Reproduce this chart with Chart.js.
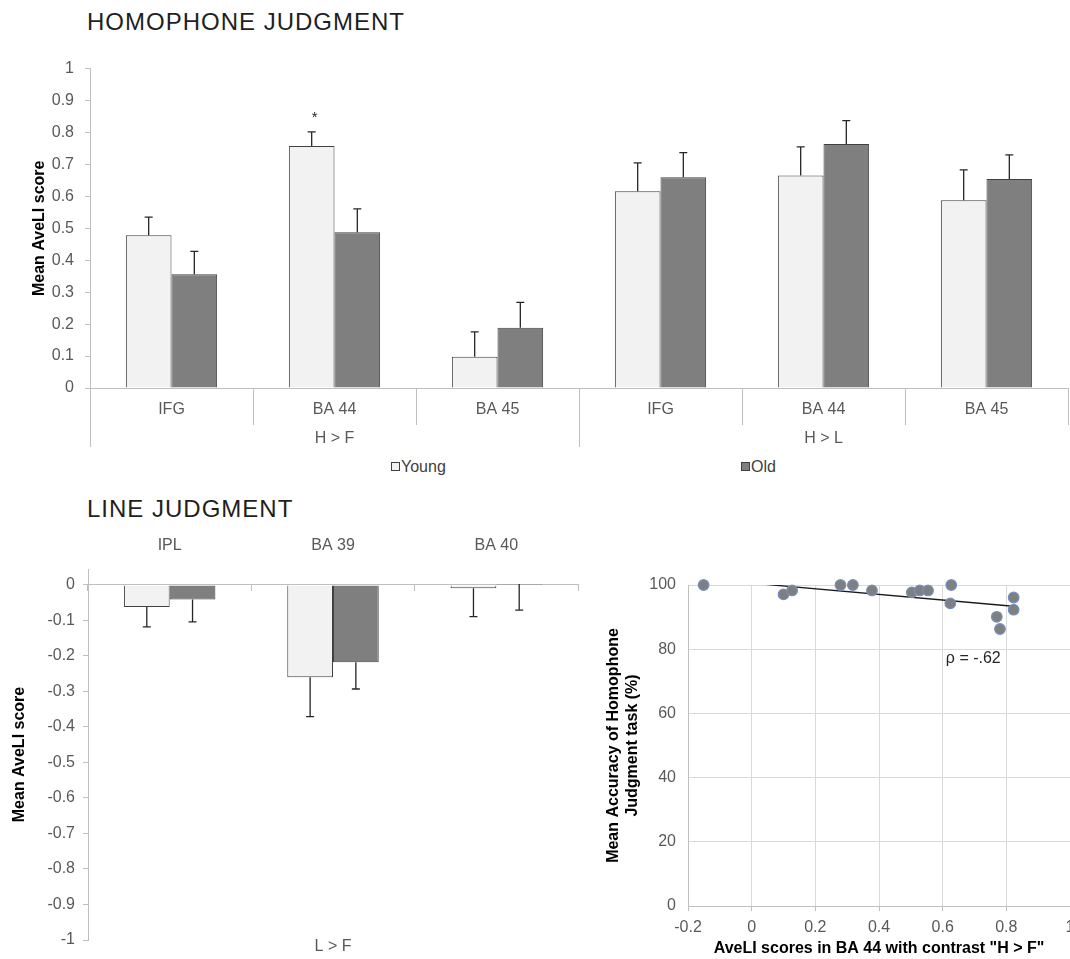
<!DOCTYPE html>
<html>
<head>
<meta charset="utf-8">
<script src="https://cdn.jsdelivr.net/npm/chart.js@4.4.1/dist/chart.umd.min.js"></script>
<style>
	body { margin: 0; width: 1070px; height: 959px; overflow: hidden; background: #fff; position: relative; font-family: "Liberation Sans", Arial, sans-serif; }
	.title { position: absolute; left: 87px; font-size: 24px; letter-spacing: 1px; color: #1f1f1f; }
	.box { position: absolute; }
	.legend { position: absolute; top: 458px; font-size: 16px; color: #404040; }
	.legend span { display: inline-block; width: 7px; height: 7px; border: 1px solid #404040; margin-right: 1px; vertical-align: 1px; }
</style>
</head>
<body>
<div class="title" style="top:8px">HOMOPHONE JUDGMENT</div>
<div class="box" style="left:0;top:48px;width:1070px;height:400px"><canvas id="homophoneChart"></canvas></div>
<div class="legend" style="left:391px"><span style="background:#f2f2f2"></span>Young</div>
<div class="legend" style="left:741px"><span style="background:#7f7f7f"></span>Old</div>
<div class="title" style="top:495px">LINE JUDGMENT</div>
<div class="box" style="left:0;top:520px;width:600px;height:439px"><canvas id="lineChart"></canvas></div>
<div class="box" style="left:590px;top:560px;width:500px;height:399px"><canvas id="scatterChart"></canvas></div>
<script>
// Homophone judgment (top)
let homCategories = ['IFG', 'BA 44', 'BA 45', 'IFG', 'BA 44', 'BA 45'];
let homGroups = ['H > F', 'H > L'];
let homGroupSizes = [3, 3];
let homYoung = [0.478, 0.758, 0.098, 0.616, 0.665, 0.588];
let homYoungSE = [0.057, 0.044, 0.078, 0.089, 0.090, 0.095];
let homOld = [0.356, 0.488, 0.189, 0.660, 0.764, 0.654];
let homOldSE = [0.072, 0.073, 0.079, 0.077, 0.073, 0.076];
let homYoungSig = ['', '*', '', '', '', ''];

// Line judgment (bottom left)
let lineCategories = ['IPL', 'BA 39', 'BA 40'];
let lineGroups = ['L > F'];
let lineGroupSizes = [3];
let lineYoung = [-0.062, -0.260, -0.009];
let lineYoungSE = [0.056, 0.111, 0.080];
let lineOld = [-0.041, -0.218, 0.003];
let lineOldSE = [0.063, 0.075, 0.074];

// Correlation (bottom right)
let baScores = [-0.151, 0.100, 0.127, 0.279, 0.318, 0.378, 0.503, 0.528, 0.554, 0.627, 0.624, 0.770, 0.780, 0.823, 0.823];
let accuracy = [100, 97.1, 98.3, 100, 100, 98.3, 97.7, 98.3, 98.3, 100, 94.3, 90.1, 86.3, 96.1, 92.3];
let trendX = [-0.151, 0.830];
let trendY = [101.9, 93.3];
let rhoLabel = 'ρ = -.62';
let rhoAt = [0.61, 77];

const FONT = '"Liberation Sans", Arial, sans-serif';
const TICK_COLOR = '#595959';
const AXIS_COLOR = '#bfbfbf';

// "1", "0.5", "0", "-1" like the original, no trailing .0
let tickText = (v) => Math.abs(v) < 1e-9 ? '0' : String(+v.toFixed(1));

// draws the error bars (and significance marks) from the bar elements
const errorBarPlugin = {
	id: 'errorBars',
	afterDatasetsDraw(chart, args, opts) {
		if (!opts.errors) return;
		let ctx = chart.ctx;
		let yScale = chart.scales.y;
		ctx.save();
		ctx.strokeStyle = '#262626';
		ctx.lineWidth = 1.3;
		chart.data.datasets.forEach((ds, d) => {
			let meta = chart.getDatasetMeta(d);
			meta.data.forEach((bar, i) => {
				let yEnd = yScale.getPixelForValue(ds.data[i] + opts.dir * opts.errors[d][i]);
				ctx.beginPath();
				ctx.moveTo(bar.x, bar.y);
				ctx.lineTo(bar.x, yEnd);
				ctx.moveTo(bar.x - 4, yEnd);
				ctx.lineTo(bar.x + 4, yEnd);
				ctx.stroke();
				if (opts.marks && opts.marks[d] && opts.marks[d][i]) {
					ctx.fillStyle = '#262626';
					ctx.font = '15px ' + FONT;
					ctx.textAlign = 'center';
					ctx.textBaseline = 'alphabetic';
					ctx.fillText(opts.marks[d][i], bar.x + 3, yEnd - 10);
				}
			});
		});
		ctx.restore();
	}
};

// second level of category labels under the axis
const groupAxisPlugin = {
	id: 'groupAxis',
	afterDraw(chart, args, opts) {
		if (!opts.labels) return;
		let xs = chart.scales.x;
		let area = chart.chartArea;
		let ctx = chart.ctx;
		let step = xs.getPixelForValue(1) - xs.getPixelForValue(0);
		ctx.save();
		ctx.strokeStyle = AXIS_COLOR;
		ctx.lineWidth = 1;
		ctx.fillStyle = TICK_COLOR;
		ctx.font = '16px ' + FONT;
		ctx.textAlign = 'center';
		ctx.textBaseline = 'middle';
		let start = 0;
		opts.labels.forEach((label, k) => {
			let left = xs.getPixelForValue(start) - step / 2;
			let right = left + step * opts.sizes[k];
			if (opts.lineLength) {
				let lx = Math.round(left) + 0.5;
				ctx.beginPath();
				ctx.moveTo(lx, area.bottom);
				ctx.lineTo(lx, area.bottom + opts.lineLength);
				ctx.stroke();
			}
			ctx.fillText(label, (left + right) / 2, area.bottom + opts.labelOffset);
			start += opts.sizes[k];
		});
		ctx.restore();
	}
};

// text placed at data coordinates
const notePlugin = {
	id: 'note',
	afterDraw(chart, args, opts) {
		if (!opts.text) return;
		let ctx = chart.ctx;
		ctx.save();
		ctx.fillStyle = '#262626';
		ctx.font = '16px ' + FONT;
		ctx.textAlign = 'left';
		ctx.textBaseline = 'middle';
		ctx.fillText(opts.text, chart.scales.x.getPixelForValue(opts.at[0]), chart.scales.y.getPixelForValue(opts.at[1]));
		ctx.restore();
	}
};

Chart.register(errorBarPlugin, groupAxisPlugin, notePlugin);
Chart.defaults.font.family = FONT;
Chart.defaults.font.size = 16;
Chart.defaults.color = TICK_COLOR;
Chart.defaults.animation = false;

function barDatasets(young, old) {
	return [{
		label: 'Young',
		data: young,
		backgroundColor: '#f2f2f2',
		borderColor: '#404040',
		borderWidth: 1,
		barPercentage: 1,
		categoryPercentage: 0.56
	}, {
		label: 'Old',
		data: old,
		backgroundColor: '#7f7f7f',
		borderColor: '#404040',
		borderWidth: 1,
		barPercentage: 1,
		categoryPercentage: 0.56
	}];
}

let yTitle = (text, pad) => ({
	display: true,
	text: text,
	color: '#000',
	font: { weight: 'bold', size: 16 },
	padding: { top: pad, bottom: 0 }
});

new Chart(document.getElementById('homophoneChart'), {
	type: 'bar',
	data: { labels: homCategories, datasets: barDatasets(homYoung, homOld) },
	options: {
		responsive: true,
		maintainAspectRatio: false,
		layout: { padding: { top: 16, right: 2, left: 0, bottom: 0 } },
		plugins: {
			legend: { display: false },
			tooltip: { enabled: false },
			errorBars: { errors: [homYoungSE, homOldSE], dir: 1, marks: [homYoungSig, []] },
			groupAxis: { labels: homGroups, sizes: homGroupSizes, lineLength: 59, labelOffset: 51 }
		},
		scales: {
			x: {
				offset: true,
				grid: { offset: true, drawOnChartArea: false, tickLength: 37, color: AXIS_COLOR },
				border: { color: AXIS_COLOR },
				ticks: { padding: -25, color: TICK_COLOR },
				afterFit: (s) => { s.height = 60; }
			},
			y: {
				min: 0,
				max: 1,
				ticks: { stepSize: 0.1, padding: 11, callback: tickText },
				grid: { drawOnChartArea: false, tickLength: 5, color: AXIS_COLOR },
				border: { color: AXIS_COLOR },
				title: yTitle('Mean AveLI score', 30),
				afterFit: (s) => { s.width = 90; }
			}
		}
	}
});

new Chart(document.getElementById('lineChart'), {
	type: 'bar',
	data: { labels: lineCategories, datasets: barDatasets(lineYoung, lineOld) },
	options: {
		responsive: true,
		maintainAspectRatio: false,
		layout: { padding: { top: 49, right: 22, left: 0, bottom: 19 } },
		plugins: {
			legend: { display: false },
			tooltip: { enabled: false },
			errorBars: { errors: [lineYoungSE, lineOldSE], dir: -1 },
			groupAxis: { labels: lineGroups, sizes: lineGroupSizes, lineLength: 0, labelOffset: 7 }
		},
		scales: {
			x: {
				position: { y: 0 },
				offset: true,
				grid: { offset: true, drawOnChartArea: false, tickLength: 6, color: AXIS_COLOR },
				border: { color: AXIS_COLOR },
				ticks: { padding: -55, color: TICK_COLOR }
			},
			y: {
				min: -1,
				max: 0.045,
				ticks: { stepSize: 0.1, padding: 8, includeBounds: false, callback: tickText },
				// the axis line runs a bit above 0, but no tick label there
				afterBuildTicks: (s) => { s.ticks = s.ticks.filter((t) => t.value <= 1e-9); },
				grid: { drawOnChartArea: false, tickLength: 5, color: AXIS_COLOR },
				border: { color: AXIS_COLOR },
				title: yTitle('Mean AveLI score', 10),
				afterFit: (s) => { s.width = 88; }
			}
		}
	}
});

new Chart(document.getElementById('scatterChart'), {
	type: 'scatter',
	data: {
		datasets: [{
			label: 'Accuracy',
			data: baScores.map((x, i) => ({ x: x, y: accuracy[i] })),
			backgroundColor: '#7f7f7f',
			borderColor: '#7391c0',
			borderWidth: 1.2,
			pointRadius: 5.3,
			clip: false
		}, {
			type: 'line',
			label: 'Trend',
			data: trendX.map((x, i) => ({ x: x, y: trendY[i] })),
			borderColor: '#1a1a1a',
			borderWidth: 1.3,
			pointRadius: 0,
			fill: false
		}]
	},
	options: {
		responsive: true,
		maintainAspectRatio: false,
		layout: { padding: { top: 25, right: 20, left: 0, bottom: 0 } },
		plugins: {
			legend: { display: false },
			tooltip: { enabled: false },
			note: { text: rhoLabel, at: rhoAt }
		},
		scales: {
			x: {
				type: 'linear',
				min: -0.2,
				max: 1,
				ticks: { stepSize: 0.2, padding: 7, callback: tickText },
				grid: { color: '#d9d9d9', tickLength: 5, tickColor: AXIS_COLOR },
				border: { color: AXIS_COLOR },
				title: {
					display: true,
					text: 'AveLI scores in BA 44 with contrast "H > F"',
					color: '#000',
					font: { weight: 'bold', size: 16 },
					padding: { top: 0, bottom: 1 }
				},
				afterFit: (s) => { s.height = 53; }
			},
			y: {
				min: 0,
				max: 100,
				ticks: { stepSize: 20, padding: 12 },
				grid: { color: '#d9d9d9', drawTicks: false },
				border: { color: AXIS_COLOR },
				title: yTitle(['Mean Accuracy of Homophone', 'Judgment task (%)'], 14),
				afterFit: (s) => { s.width = 98; }
			}
		}
	}
});
</script>
</body>
</html>
